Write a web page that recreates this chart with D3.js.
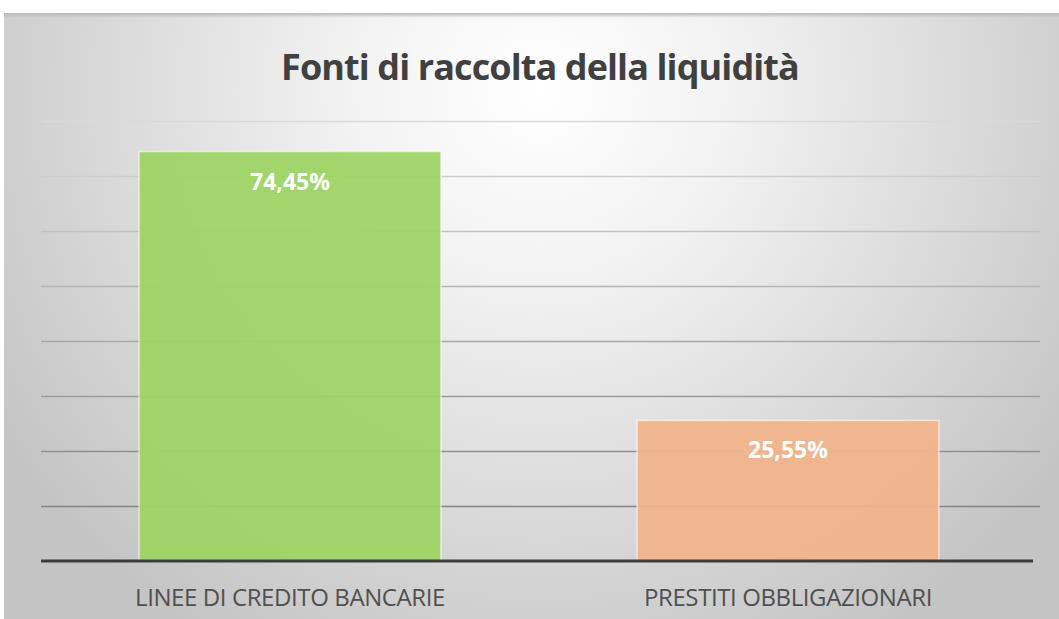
<!DOCTYPE html>
<html>
<head>
<meta charset="utf-8">
<script src="https://cdn.jsdelivr.net/npm/d3@7"></script>
<style>
  html, body { margin: 0; padding: 0; background: #ffffff; }
  svg { display: block; }
</style>
</head>
<body>
<svg id="chart" width="1059" height="619"></svg>
<script>
// Sources of liquidity, share of total (percent)
const categories = ["LINEE DI CREDITO BANCARIE", "PRESTITI OBBLIGAZIONARI"];
const values = [74.45, 25.55];
const valueLabels = ["74,45%", "25,55%"];
const barColors = ["#9dd364", "#f1b48b"];
const tickValues = [0, 10, 20, 30, 40, 50, 60, 70, 80];
const title = "Fonti di raccolta della liquidità";

const svg = d3.select("#chart");
const W = 1059, H = 619;
const frame = { x: 4, y: 13, w: W - 4, h: H - 13 };
const plot = { left: 41, right: 1037, top: 121, bottom: 561 };

const defs = svg.append("defs");
const bg = defs.append("radialGradient")
  .attr("id", "bgGrad")
  .attr("gradientUnits", "userSpaceOnUse")
  .attr("cx", 540).attr("cy", 90).attr("r", 640);
bg.append("stop").attr("offset", "0%").attr("stop-color", "#ffffff");
bg.append("stop").attr("offset", "30%").attr("stop-color", "#f2f2f2");
bg.append("stop").attr("offset", "100%").attr("stop-color", "#c4c4c4");

const shadow = defs.append("linearGradient")
  .attr("id", "topShadow").attr("x1", 0).attr("y1", 0).attr("x2", 0).attr("y2", 1);
shadow.append("stop").attr("offset", "0%").attr("stop-color", "#b8b8b8");
shadow.append("stop").attr("offset", "100%").attr("stop-color", "#b8b8b8").attr("stop-opacity", 0);

// chart frame
svg.append("rect")
  .attr("x", frame.x).attr("y", frame.y)
  .attr("width", frame.w).attr("height", frame.h)
  .attr("fill", "url(#bgGrad)");
svg.append("rect")
  .attr("x", frame.x).attr("y", frame.y)
  .attr("width", frame.w).attr("height", 5)
  .attr("fill", "url(#topShadow)");

// scales
const x = d3.scaleBand()
  .domain(categories)
  .range([plot.left, plot.right])
  .paddingInner(0.394)
  .paddingOuter(0.197);

const y = d3.scaleLinear()
  .domain([0, 80])
  .range([plot.bottom, plot.top]);

const gridShade = d3.scaleLinear()
  .domain([80, 10])
  .range(["#d9d9d9", "#858585"])
  .interpolate(d3.interpolateRgb);

// gridlines
const grid = svg.append("g")
  .attr("transform", `translate(${plot.left},0)`)
  .call(d3.axisLeft(y)
    .tickValues(tickValues.filter(v => v > 0))
    .tickSize(-(plot.right + 3 - plot.left))
    .tickFormat(""));
grid.select(".domain").remove();
grid.selectAll(".tick line")
  .attr("stroke", d => gridShade(d))
  .attr("stroke-width", 1.6);

// bars
const bars = svg.append("g");
bars.selectAll("rect")
  .data(categories)
  .join("rect")
  .attr("x", d => x(d))
  .attr("y", (d, i) => y(values[i]))
  .attr("width", x.bandwidth())
  .attr("height", (d, i) => y(0) - y(values[i]))
  .attr("fill", (d, i) => barColors[i])
  .attr("fill-opacity", 0.94)
  .attr("stroke", "#ffffff")
  .attr("stroke-opacity", 0.55)
  .attr("stroke-width", 1.6);

// baseline axis
const xAxis = svg.append("g")
  .attr("transform", `translate(0,${plot.bottom})`)
  .call(d3.axisBottom(x).tickSize(0).tickPadding(28));
xAxis.select(".domain")
  .attr("stroke", "#3d3d3d")
  .attr("stroke-width", 3)
  .attr("d", `M${plot.left},0H${plot.right - 4}`);
xAxis.selectAll(".tick text")
  .attr("fill", "#505050")
  .style("font-family", "'Open Sans', sans-serif")
  .style("font-size", "24px")
  .style("letter-spacing", "-0.4px");

// value labels
svg.append("g").selectAll("text")
  .data(categories)
  .join("text")
  .attr("x", d => x(d) + x.bandwidth() / 2)
  .attr("y", (d, i) => y(values[i]) + 38)
  .attr("text-anchor", "middle")
  .attr("fill", "#ffffff")
  .style("font-family", "'Open Sans', sans-serif")
  .style("font-weight", 700)
  .style("font-size", "23px")
  .text((d, i) => valueLabels[i]);

// title
svg.append("text")
  .attr("x", 540)
  .attr("y", 80)
  .attr("text-anchor", "middle")
  .attr("fill", "#404040")
  .style("font-family", "'Open Sans', sans-serif")
  .style("font-weight", 700)
  .style("font-size", "36px")
  .style("letter-spacing", "-0.9px")
  .text(title);
</script>
</body>
</html>
